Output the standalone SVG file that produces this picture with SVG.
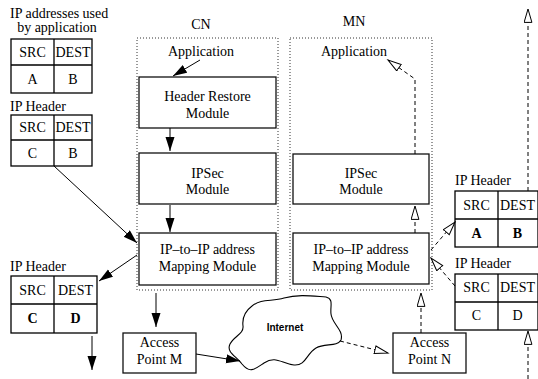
<svg xmlns="http://www.w3.org/2000/svg" width="538" height="379" viewBox="0 0 538 379">
  <style>
    .c { text-anchor: middle; }
    .b { font-weight: bold; }
    .box { fill: #fff; stroke: #111; stroke-width: 1.3; }
    .tbl { fill: #fff; stroke: #000; stroke-width: 1.3; }
    .grid { stroke: #000; stroke-width: 1.3; fill: none; }
    .host { fill: none; stroke: #333; stroke-width: 1; stroke-dasharray: 1 2; }
    .solid { fill: none; stroke: #000; stroke-width: 1; }
    .dash { fill: none; stroke: #000; stroke-width: 1; stroke-dasharray: 4 3; }
  </style>
  <defs>
    <marker id="fill" markerUnits="userSpaceOnUse" markerWidth="15" markerHeight="10" refX="14" refY="4.5" orient="auto">
      <path d="M0,0 L14,4.5 L0,9 z" fill="#000"/>
    </marker>
    <marker id="open" markerUnits="userSpaceOnUse" markerWidth="16" markerHeight="10" refX="14" refY="4.5" orient="auto">
      <path d="M0.6,0.6 L14,4.5 L0.6,8.4 z" fill="#fff" stroke="#000" stroke-width="1"/>
    </marker>
  </defs>

  <g font-family="Liberation Serif, Times New Roman, serif" font-size="14" fill="#000">
  <!-- host boundaries -->
  <g id="cn-host">
    <rect class="host" x="137" y="38" width="141" height="252"/>
    <text class="c" x="201" y="29">CN</text>
    <text class="c" x="201" y="56">Application</text>
  </g>
  <g id="mn-host">
    <rect class="host" x="290" y="38" width="142" height="252"/>
    <text class="c" x="354" y="26">MN</text>
    <text class="c" x="354" y="56">Application</text>
  </g>

  <!-- address tables -->
  <g id="tbl-app">
    <text x="10" y="18">IP addresses used</text>
    <text class="c" x="57" y="32">by application</text>
    <rect class="tbl" x="11" y="39" width="81" height="54"/>
    <path class="grid" d="M11,65 H92 M54,39 V93"/>
    <text class="c" x="32.5" y="57">SRC</text>
    <text class="c" x="73" y="57">DEST</text>
    <text class="c" x="32.5" y="84">A</text>
    <text class="c" x="73" y="84">B</text>
  </g>
  <g id="tbl-cn-in">
    <text x="10" y="111">IP Header</text>
    <rect class="tbl" x="11" y="115" width="81" height="51"/>
    <path class="grid" d="M11,140 H92 M54,115 V166"/>
    <text class="c" x="32.5" y="132">SRC</text>
    <text class="c" x="73" y="132">DEST</text>
    <text class="c" x="32.5" y="158">C</text>
    <text class="c" x="73" y="158">B</text>
  </g>
  <g id="tbl-cn-out">
    <text x="10" y="271">IP Header</text>
    <rect class="tbl" x="11" y="276" width="86" height="57"/>
    <path class="grid" d="M11,304 H97 M54,276 V333"/>
    <text class="c" x="32.5" y="295">SRC</text>
    <text class="c" x="75.5" y="295">DEST</text>
    <text class="c b" x="32.5" y="323">C</text>
    <text class="c b" x="75.5" y="323">D</text>
  </g>
  <g id="tbl-mn-app">
    <text x="455" y="185">IP Header</text>
    <rect class="tbl" x="455" y="191" width="83" height="56"/>
    <path class="grid" d="M455,219 H538 M498,191 V247"/>
    <text class="c" x="476.5" y="210">SRC</text>
    <text class="c" x="517.5" y="210">DEST</text>
    <text class="c b" x="476.5" y="238">A</text>
    <text class="c b" x="517.5" y="238">B</text>
  </g>
  <g id="tbl-mn-in">
    <text x="455" y="268">IP Header</text>
    <rect class="tbl" x="455" y="274" width="83" height="56"/>
    <path class="grid" d="M455,302 H538 M498,274 V330"/>
    <text class="c" x="476.5" y="292">SRC</text>
    <text class="c" x="517.5" y="292">DEST</text>
    <text class="c" x="476.5" y="320">C</text>
    <text class="c" x="517.5" y="320">D</text>
  </g>

  <!-- CN modules -->
  <g id="cn-restore">
    <rect class="box" x="139" y="77" width="137" height="51"/>
    <text class="c" x="207.5" y="101">Header Restore</text>
    <text class="c" x="207.5" y="118">Module</text>
  </g>
  <g id="cn-ipsec">
    <rect class="box" x="139" y="153" width="137" height="51"/>
    <text class="c" x="207.5" y="178">IPSec</text>
    <text class="c" x="207.5" y="194">Module</text>
  </g>
  <g id="cn-map">
    <rect class="box" x="139" y="233" width="137" height="52"/>
    <text class="c" x="207.5" y="254">IP–to–IP address</text>
    <text class="c" x="207.5" y="271">Mapping Module</text>
  </g>

  <!-- MN modules -->
  <g id="mn-ipsec">
    <rect class="box" x="293" y="154" width="136" height="50"/>
    <text class="c" x="361" y="178">IPSec</text>
    <text class="c" x="361" y="194">Module</text>
  </g>
  <g id="mn-map">
    <rect class="box" x="293" y="233" width="136" height="51"/>
    <text class="c" x="361" y="254">IP–to–IP address</text>
    <text class="c" x="361" y="271">Mapping Module</text>
  </g>

  <!-- access points and network -->
  <g id="ap-m">
    <rect class="box" x="123" y="333" width="73" height="40"/>
    <text class="c" x="159.5" y="347">Access</text>
    <text class="c" x="159.5" y="364">Point M</text>
  </g>
  <g id="ap-n">
    <rect class="box" x="393" y="333" width="73" height="40"/>
    <text class="c" x="429.5" y="347">Access</text>
    <text class="c" x="429.5" y="364">Point N</text>
  </g>
  <g id="internet">
    <path fill="#fff" stroke="#000" stroke-width="1.1" d="M252,306 C262,298 272,302 284,298 C298,294 312,296 326,297 C334,299 330,306 331,314 C332,324 344,330 341,340 C337,347 325,343 316,348 C306,354 306,366 294,365 C282,364 276,355 264,363 C255,369 250,374 242,364 C236,356 226,352 230,344 C234,336 244,334 243,326 C242,318 244,312 252,306 Z"/>
    <text class="c" x="285" y="331" font-family="Liberation Sans, Arial, sans-serif" font-size="10" font-weight="bold">Internet</text>
  </g>
  </g>

  <!-- connectors -->
  <g id="connectors">
    <path class="solid" d="M200,60 L173,76" marker-end="url(#fill)"/>
    <path class="solid" d="M170,128 V151" marker-end="url(#fill)"/>
    <path class="solid" d="M170,205 V232" marker-end="url(#fill)"/>
    <path class="solid" d="M54,166 L137,243" marker-end="url(#fill)"/>
    <path class="solid" d="M137,255 L99,281" marker-end="url(#fill)"/>
    <path class="solid" d="M92,336 V370" marker-end="url(#fill)"/>
    <path class="solid" d="M156,293 V327" marker-end="url(#fill)"/>
    <path class="solid" d="M196,354 L240,361" marker-end="url(#fill)"/>

    <path class="dash" d="M340,341 L388,353" marker-end="url(#open)"/>
    <path class="dash" d="M421,333 V293" marker-end="url(#open)"/>
    <path class="dash" d="M415,233 V206" marker-end="url(#open)"/>
    <path class="dash" d="M415,154 V79 L388,60" marker-end="url(#open)"/>
    <path class="dash" d="M431,250 L455,222" marker-end="url(#open)"/>
    <path class="dash" d="M455,286 L431,258" marker-end="url(#open)"/>
    <path class="dash" d="M528,191 V9" marker-end="url(#open)"/>
    <path class="dash" d="M528,379 V331" marker-end="url(#open)"/>
  </g>
</svg>
